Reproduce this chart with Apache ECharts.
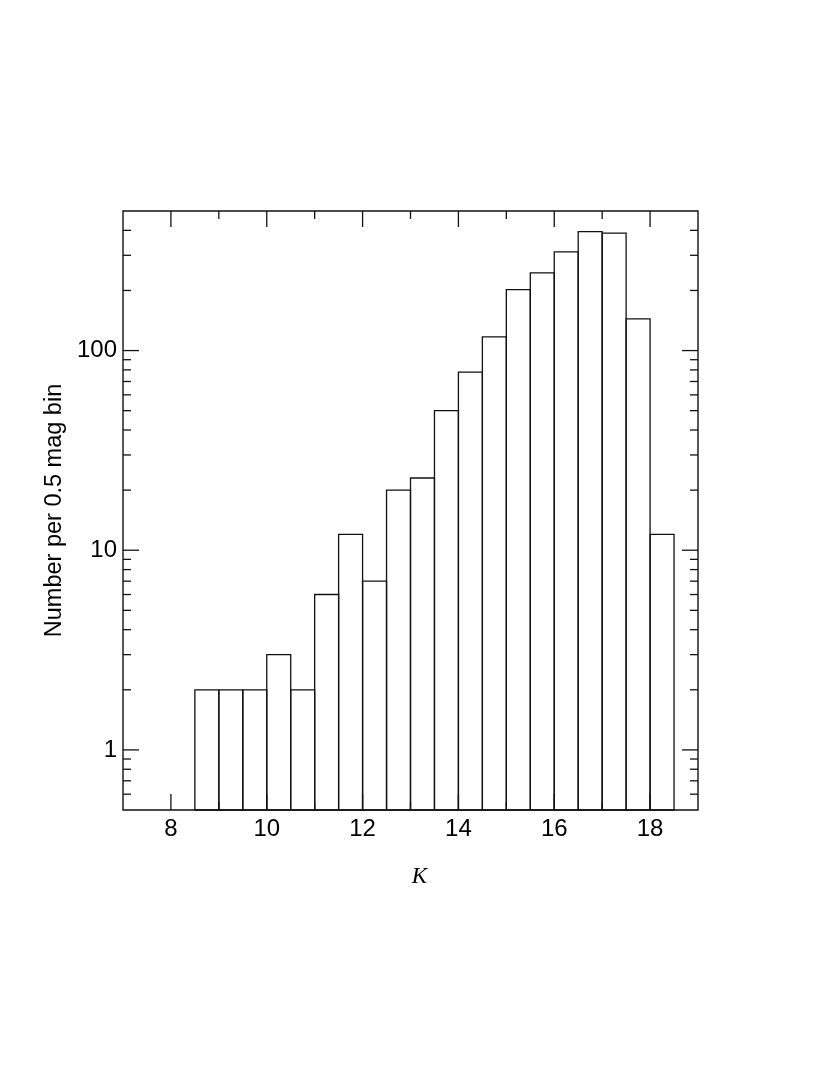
<!DOCTYPE html>
<html><head><meta charset="utf-8">
<script src="https://cdn.jsdelivr.net/npm/echarts@6/dist/echarts.min.js"></script>
<style>html,body{margin:0;padding:0;background:#fff}#c{width:830px;height:1075px}</style>
</head><body><div id="c"></div>
<script>
// ---- data ----
const binStarts = [8.5, 9.0, 9.5, 10.0, 10.5, 11.0, 11.5, 12.0, 12.5, 13.0, 13.5, 14.0, 14.5, 15.0, 15.5, 16.0, 16.5, 17.0, 17.5, 18.0];
const binWidth = 0.5;
const counts = [2, 2, 2, 3, 2, 6, 12, 7, 20, 23, 50, 78, 117, 202, 245, 312, 394, 387, 144, 12];
const xMajorTicks = [8, 10, 12, 14, 16, 18];
const xMinorTicks = [9, 11, 13, 15, 17];
const yMajorTicks = [1, 10, 100];
const yMinorTicks = [0.6, 0.7, 0.8, 0.9, 2, 3, 4, 5, 6, 7, 8, 9, 20, 30, 40, 50, 60, 70, 80, 90, 200, 300, 400];
const xMin = 7, xMax = 19, yMin = 0.5, yMax = 500;
const xTitle = 'K';
const yTitle = 'Number per 0.5 mag bin';

const FONT = '"Liberation Sans", Arial, Helvetica, sans-serif';
const MAJOR = 16, MINOR = 8;

const barData = binStarts.map((s, i) => [s, counts[i]]);
const yTickData = yMajorTicks.map(v => [xMin, v, MAJOR]).concat(yMinorTicks.map(v => [xMin, v, MINOR]));
const xTickData = xMajorTicks.map(v => [v, yMin, MAJOR]).concat(xMinorTicks.map(v => [v, yMin, MINOR]));

const chart = echarts.init(document.getElementById('c'), null, {renderer: 'canvas'});
chart.setOption({
  animation: false,
  backgroundColor: '#fff',
  grid: {left: 123, top: 211, width: 575, height: 599, show: true, borderColor: '#111', borderWidth: 1.4, backgroundColor: 'transparent'},
  xAxis: {
    type: 'value', min: xMin, max: xMax, interval: 1,
    axisLine: {show: false}, axisTick: {show: false}, splitLine: {show: false},
    axisLabel: {
      margin: 7, color: '#000', fontSize: 24, fontFamily: FONT,
      formatter: v => xMajorTicks.indexOf(v) >= 0 ? String(v) : ''
    }
  },
  yAxis: {
    type: 'log', logBase: 10, min: yMin, max: yMax,
    axisLine: {show: false}, axisTick: {show: false}, splitLine: {show: false}, minorTick: {show: false},
    axisLabel: {
      margin: 6, color: '#000', fontSize: 24, fontFamily: FONT,
      formatter: v => {
        const r = Math.round(v * 1000) / 1000;
        return yMajorTicks.indexOf(r) >= 0 ? String(r) : '';
      }
    },
    name: yTitle, nameLocation: 'middle', nameGap: 55, nameRotate: 90,
    nameTextStyle: {color: '#000', fontSize: 23.5, fontFamily: FONT}
  },
  graphic: [{
    type: 'text', x: 419.5, y: 876.5,
    style: {text: xTitle, fill: '#000', font: 'italic 23px "Liberation Serif", "Times New Roman", serif', textAlign: 'center', textVerticalAlign: 'middle'}
  }],
  series: [{
    type: 'custom', name: 'counts', data: barData, z: 2,
    renderItem: (params, api) => {
      const x0 = api.value(0), v = api.value(1);
      const p0 = api.coord([x0, yMin]);
      const p1 = api.coord([x0 + binWidth, v]);
      return {type: 'rect', shape: {x: p0[0], y: p1[1], width: p1[0] - p0[0], height: p0[1] - p1[1]},
        style: {fill: 'none', stroke: '#111', lineWidth: 1.3}};
    }
  }, {
    type: 'custom', name: 'yticks', data: yTickData, z: 3, silent: true,
    renderItem: (params, api) => {
      const v = api.value(1), len = api.value(2);
      const pl = api.coord([xMin, v]);
      const pr = api.coord([xMax, v]);
      return {type: 'group', children: [
        {type: 'line', shape: {x1: pl[0], y1: pl[1], x2: pl[0] + len, y2: pl[1]}, style: {stroke: '#111', lineWidth: 1.3}},
        {type: 'line', shape: {x1: pr[0], y1: pr[1], x2: pr[0] - len, y2: pr[1]}, style: {stroke: '#111', lineWidth: 1.3}}
      ]};
    }
  }, {
    type: 'custom', name: 'xticks', data: xTickData, z: 3, silent: true,
    renderItem: (params, api) => {
      const v = api.value(0), len = api.value(2);
      const pb = api.coord([v, yMin]);
      const pt = api.coord([v, yMax]);
      return {type: 'group', children: [
        {type: 'line', shape: {x1: pb[0], y1: pb[1], x2: pb[0], y2: pb[1] - len}, style: {stroke: '#111', lineWidth: 1.3}},
        {type: 'line', shape: {x1: pt[0], y1: pt[1], x2: pt[0], y2: pt[1] + len}, style: {stroke: '#111', lineWidth: 1.3}}
      ]};
    }
  }]
});
</script>
</body></html>
